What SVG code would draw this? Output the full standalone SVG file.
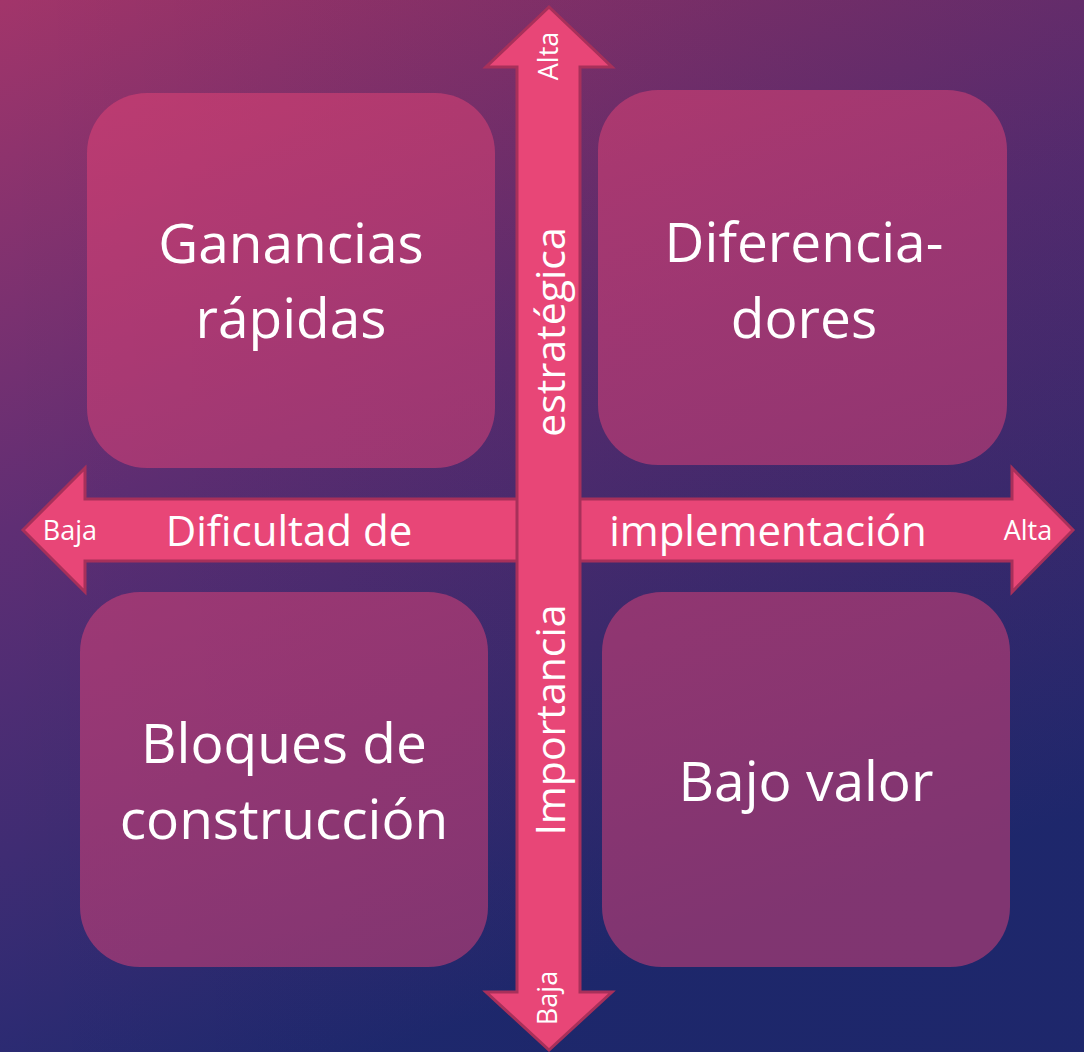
<svg xmlns="http://www.w3.org/2000/svg" width="1084" height="1052" viewBox="0 0 1084 1052">
  <defs>
    <linearGradient id="bg" x1="0" y1="0" x2="0.35" y2="1">
      <stop offset="0" stop-color="#a2356a"/>
      <stop offset="0.45" stop-color="#5f2e74"/>
      <stop offset="1" stop-color="#1f2a72"/>
    </linearGradient>
    <linearGradient id="bgr" x1="0" y1="0" x2="1" y2="0">
      <stop offset="0" stop-color="#000000" stop-opacity="0"/>
      <stop offset="1" stop-color="#1a1a50" stop-opacity="0.18"/>
    </linearGradient>
    <style>
      .box { fill: #ec4678; fill-opacity: 0.48; }
      .big { font-family: "Open Sans", "Noto Sans", sans-serif; font-size: 55px; fill: #ffffff; text-anchor: middle; }
      .axis { fill: #e84677; stroke: #a8305a; stroke-width: 3; stroke-linejoin: miter; }
      .lab { font-family: "Open Sans", "Noto Sans", sans-serif; font-size: 42px; fill: #ffffff; text-anchor: middle; }
      .vlab { font-family: "Open Sans", "Noto Sans", sans-serif; font-size: 41px; fill: #ffffff; text-anchor: middle; }
      .sm { font-family: "Open Sans", "Noto Sans", sans-serif; font-size: 27px; fill: #ffffff; text-anchor: middle; }
    </style>
  </defs>
  <rect x="0" y="0" width="1084" height="1052" fill="url(#bg)"/>
  <rect x="0" y="0" width="1084" height="1052" fill="url(#bgr)"/>

  <g id="node-ganancias">
    <rect class="box" x="87" y="93" width="408" height="375" rx="60" ry="60"/>
    <text class="big" x="291" y="263">Ganancias</text>
    <text class="big" x="291" y="338">rápidas</text>
  </g>
  <g id="node-diferenciadores">
    <rect class="box" x="598" y="90" width="409" height="375" rx="60" ry="60"/>
    <text class="big" x="804" y="262">Diferencia-</text>
    <text class="big" x="804" y="338">dores</text>
  </g>
  <g id="node-bloques">
    <rect class="box" x="80" y="592" width="408" height="375" rx="60" ry="60"/>
    <text class="big" x="284" y="763">Bloques de</text>
    <text class="big" x="284" y="839">construcción</text>
  </g>
  <g id="node-bajo-valor">
    <rect class="box" x="602" y="592" width="408" height="375" rx="60" ry="60"/>
    <text class="big" x="806" y="801">Bajo valor</text>
  </g>

  <g id="connectors">
    <path class="axis" d="M23,530 L85,468 L85,499 L1012,499 L1012,468 L1073,530 L1012,592 L1012,561 L85,561 L85,592 Z"/>
    <path class="axis" d="M549,7 L612,67 L580,67 L580,992 L612,992 L549,1050 L486,992 L517,992 L517,67 L486,67 Z"/>
    <text class="lab" x="289" y="546">Dificultad de</text>
    <text class="lab" x="768" y="546">implementación</text>
    <text class="sm" x="70" y="540">Baja</text>
    <text class="sm" x="1028" y="540">Alta</text>
    <text class="vlab" transform="translate(565,332) rotate(-90)" x="0" y="0">estratégica</text>
    <text class="vlab" transform="translate(565,720) rotate(-90)" x="0" y="0">Importancia</text>
    <text class="sm" transform="translate(558,56) rotate(-90)" x="0" y="0">Alta</text>
    <text class="sm" transform="translate(557,998) rotate(-90)" x="0" y="0">Baja</text>
  </g>
</svg>
